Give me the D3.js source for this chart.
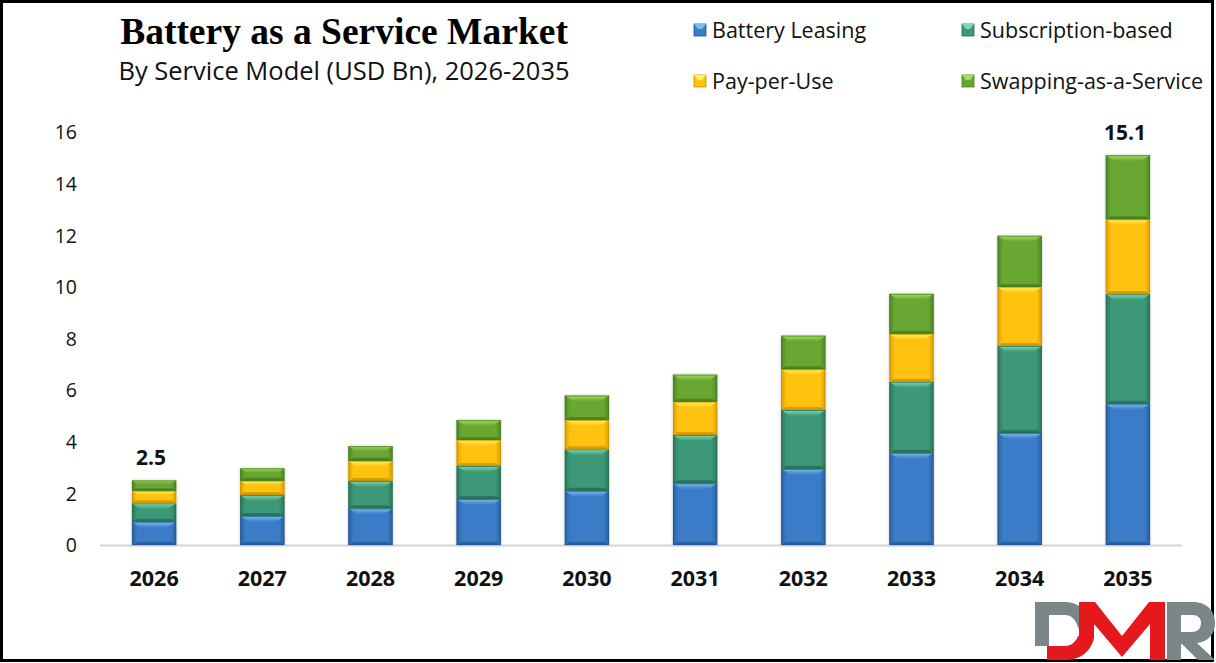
<!DOCTYPE html>
<html>
<head>
<meta charset="utf-8">
<script src="https://cdn.jsdelivr.net/npm/d3@7"></script>
<style>
  html, body { margin: 0; padding: 0; background: #fff; }
  svg { display: block; }
  .tick-y { font-family: "Open Sans", sans-serif; font-size: 19.5px; fill: #111; }
  .tick-x { font-family: "Open Sans", sans-serif; font-size: 21.5px; font-weight: 700; fill: #111; }
  .legend-text { font-family: "Open Sans", sans-serif; font-size: 21.5px; fill: #111; }
  .total-label { font-family: "Open Sans", sans-serif; font-size: 21px; font-weight: 700; fill: #111; }
</style>
</head>
<body>
<svg id="chart" width="1216" height="663"></svg>
<script>
// ========= data =========
const years = ["2026", "2027", "2028", "2029", "2030", "2031", "2032", "2033", "2034", "2035"];
const seriesNames = ["Battery Leasing", "Subscription-based", "Pay-per-Use", "Swapping-as-a-Service"];

const batteryLeasing = [0.90, 1.12, 1.42, 1.78, 2.10, 2.39, 2.95, 3.57, 4.34, 5.47];
const subscriptionBased = [0.72, 0.82, 1.06, 1.28, 1.61, 1.87, 2.28, 2.75, 3.37, 4.25];
const payPerUse = [0.48, 0.55, 0.78, 1.01, 1.13, 1.29, 1.58, 1.86, 2.29, 2.90];
const swapping = [0.40, 0.48, 0.57, 0.77, 0.95, 1.05, 1.30, 1.55, 1.98, 2.48];

// only first and last bars carry a total label
const totalLabels = [{ year: "2026", text: "2.5" }, { year: "2035", text: "15.1" }];
const yTicks = [0, 2, 4, 6, 8, 10, 12, 14, 16];

// ========= colours =========
const palette = {
    "Battery Leasing":       { base: "#3a7cc8", light: "#7bbcf0", dark: "#2a5f9e", edge: "#24558f" },
    "Subscription-based":    { base: "#3c9877", light: "#7fdab4", dark: "#2c7659", edge: "#276a50" },
    "Pay-per-Use":           { base: "#ffc30f", light: "#fff25a", dark: "#d99e00", edge: "#c79000" },
    "Swapping-as-a-Service": { base: "#68a832", light: "#a6de60", dark: "#4d8522", edge: "#467a1e" }
};

// ========= svg =========
const svg = d3.select("#chart");
const width = +svg.attr("width");
const height = +svg.attr("height");

const plot = { left: 100, right: 1182, top: 132, bottom: 545 };

const x = d3.scaleBand()
    .domain(years)
    .range([plot.left, plot.right])
    .paddingInner(0.59)
    .paddingOuter(0.295);

const y = d3.scaleLinear()
    .domain([0, 16])
    .range([plot.bottom, plot.top]);

const defs = svg.append("defs");

const shadow = defs.append("filter")
    .attr("id", "soft")
    .attr("x", "-20%").attr("y", "-5%")
    .attr("width", "140%").attr("height", "110%");
shadow.append("feGaussianBlur").attr("in", "SourceAlpha").attr("stdDeviation", 1.6).attr("result", "b");
shadow.append("feComponentTransfer").attr("in", "b").attr("result", "b2")
    .append("feFuncA").attr("type", "linear").attr("slope", 0.25);
const merge = shadow.append("feMerge");
merge.append("feMergeNode").attr("in", "b2");
merge.append("feMergeNode").attr("in", "SourceGraphic");

seriesNames.forEach((name, i) => {
    const c = palette[name];
    const grad = defs.append("linearGradient")
        .attr("id", "grad" + i)
        .attr("x1", "0%").attr("x2", "100%").attr("y1", "0%").attr("y2", "0%");
    [[0, c.dark], [0.12, c.base], [0.88, c.base], [1, c.dark]].forEach(([t, col]) => {
        grad.append("stop").attr("offset", `${t * 100}%`).attr("stop-color", col);
    });
    const hl = defs.append("linearGradient")
        .attr("id", "hl" + i)
        .attr("x1", "0%").attr("x2", "0%").attr("y1", "0%").attr("y2", "100%");
    [[0, c.light], [1, c.base]].forEach(([t, col]) => {
        hl.append("stop").attr("offset", `${t * 100}%`).attr("stop-color", col);
    });
});

// ========= frame =========
svg.append("rect")
    .attr("x", 1.5).attr("y", 1.5)
    .attr("width", 1211).attr("height", 659)
    .attr("fill", "#fff")
    .attr("stroke", "#000")
    .attr("stroke-width", 3);

// ========= title =========
svg.append("text")
    .attr("x", 344).attr("y", 44)
    .attr("text-anchor", "middle")
    .style("font-family", "'Liberation Serif', 'Times New Roman', serif")
    .style("font-weight", 700)
    .style("font-size", "37.5px")
    .attr("fill", "#000")
    .text("Battery as a Service Market");

svg.append("text")
    .attr("x", 344).attr("y", 80)
    .attr("text-anchor", "middle")
    .style("font-family", "'Open Sans', sans-serif")
    .style("font-size", "25.5px")
    .attr("fill", "#111")
    .text("By Service Model (USD Bn), 2026-2035");

// ========= axes =========
const yAxis = svg.append("g")
    .attr("transform", `translate(${plot.left - 23},0)`)
    .call(d3.axisLeft(y).tickValues(yTicks).tickSize(0).tickPadding(0));
yAxis.select(".domain").remove();
yAxis.selectAll("text").attr("class", "tick-y").attr("dy", "0.35em");

svg.append("line")
    .attr("x1", plot.left).attr("x2", plot.right)
    .attr("y1", y(0) + 0.5).attr("y2", y(0) + 0.5)
    .attr("stroke", "#d4d4d4")
    .attr("stroke-width", 2);

const xAxis = svg.append("g")
    .attr("transform", `translate(0,${y(0) + 33})`)
    .call(d3.axisBottom(x).tickSize(0).tickPadding(0));
xAxis.select(".domain").remove();
xAxis.selectAll("text").attr("class", "tick-x").attr("dy", "0.35em");

// ========= stacked bars =========
const rows = years.map((yr, i) => ({
    year: yr,
    "Battery Leasing": batteryLeasing[i],
    "Subscription-based": subscriptionBased[i],
    "Pay-per-Use": payPerUse[i],
    "Swapping-as-a-Service": swapping[i]
}));

const stack = d3.stack().keys(seriesNames)(rows);

const segments = [];
stack.forEach((layer, si) => {
    layer.forEach(d => {
        segments.push({
            key: layer.key,
            si: si,
            year: d.data.year,
            x0: x(d.data.year),
            x1: x(d.data.year) + x.bandwidth(),
            top: y(d[1]),
            bot: y(d[0])
        });
    });
});

const barsG = svg.append("g");

// shadow behind whole bar
barsG.selectAll(".bar-bg")
    .data(rows)
    .join("rect")
    .attr("class", "bar-bg")
    .attr("x", d => x(d.year))
    .attr("y", d => y(d3.sum(seriesNames, k => d[k])))
    .attr("width", x.bandwidth())
    .attr("height", d => y(0) - y(d3.sum(seriesNames, k => d[k])))
    .attr("fill", "#fff")
    .attr("filter", "url(#soft)");

const seg = barsG.selectAll(".seg")
    .data(segments)
    .join("g")
    .attr("class", "seg");

seg.append("rect")
    .attr("x", d => d.x0)
    .attr("y", d => d.top)
    .attr("width", d => d.x1 - d.x0)
    .attr("height", d => d.bot - d.top)
    .attr("fill", d => `url(#grad${d.si})`);

function bevel(d) {
    return Math.min(6, (d.bot - d.top) / 3);
}

// top bevel highlight
seg.append("path")
    .attr("d", d => {
        const b = bevel(d);
        return `M${d.x0},${d.top}L${d.x1},${d.top}L${d.x1 - b * 1.5},${d.top + b}L${d.x0 + b * 1.5},${d.top + b}Z`;
    })
    .attr("fill", d => `url(#hl${d.si})`);

// bottom bevel shade
seg.append("path")
    .attr("d", d => {
        const b = Math.min(3, (d.bot - d.top) / 4);
        return `M${d.x0},${d.bot}L${d.x1},${d.bot}L${d.x1 - b * 1.6},${d.bot - b}L${d.x0 + b * 1.6},${d.bot - b}Z`;
    })
    .attr("fill", d => palette[d.key].dark);

seg.append("rect")
    .attr("x", d => d.x0 + 0.5)
    .attr("y", d => d.top + 0.5)
    .attr("width", d => d.x1 - d.x0 - 1)
    .attr("height", d => d.bot - d.top - 1)
    .attr("fill", "none")
    .attr("stroke", d => palette[d.key].edge)
    .attr("stroke-opacity", 0.7)
    .attr("stroke-width", 1);

// ========= total labels =========
const totalsByYear = new Map(rows.map(d => [d.year, d3.sum(seriesNames, k => d[k])]));
svg.selectAll(".total-label")
    .data(totalLabels)
    .join("text")
    .attr("class", "total-label")
    .attr("x", d => x(d.year) + x.bandwidth() / 2 - 3)
    .attr("y", d => y(totalsByYear.get(d.year)) - 23)
    .attr("text-anchor", "middle")
    .attr("dy", "0.35em")
    .text(d => d.text);

// ========= legend =========
const legendPos = [
    { x: 694, y: 30 }, { x: 962, y: 30 },
    { x: 694, y: 81 }, { x: 962, y: 81 }
];

const legend = svg.selectAll(".legend-item")
    .data(seriesNames)
    .join("g")
    .attr("class", "legend-item")
    .attr("transform", (d, i) => `translate(${legendPos[i].x},${legendPos[i].y})`);

legend.append("rect")
    .attr("x", 0).attr("y", -6)
    .attr("width", 12).attr("height", 12)
    .attr("fill", d => palette[d].base)
    .attr("stroke", d => palette[d].edge)
    .attr("stroke-width", 0.8);

legend.append("path")
    .attr("d", "M0,-6L12,-6L8,-1L4,-1Z")
    .attr("fill", d => palette[d].light);

legend.append("text")
    .attr("class", "legend-text")
    .attr("x", 18)
    .attr("y", 0)
    .attr("dy", "0.35em")
    .text(d => d);

// ========= logo =========
const logo = svg.append("g").attr("transform", "translate(1035,602)");
const grey = "#7a8688";
const red = "#e5181e";
// D: stem, top bar and upper right curve in grey
logo.append("path")
    .attr("d", "M0,0H30C42,0 55,8 57,26H43C41,17 36,13 30,13H14V44H0Z")
    .attr("fill", grey);
// red lower bowl of D running into M
logo.append("path")
    .attr("d", "M12,44H30C36,44 41,40 43,34H44V0H60L87,34L114,0H130V58H115V22L87,55L59,22V36C56,50 45,58 30,58H12Z")
    .attr("fill", red);
// R
logo.append("path")
    .attr("d", "M132,0H158C172,0 180,9 180,21C180,32 173,40 162,41L180,58H163L147,42H146V58H132ZM146,13V30H157C163,30 166,26 166,21C166,16 163,13 157,13Z")
    .attr("fill", grey)
    .attr("fill-rule", "evenodd");
</script>
</body>
</html>
